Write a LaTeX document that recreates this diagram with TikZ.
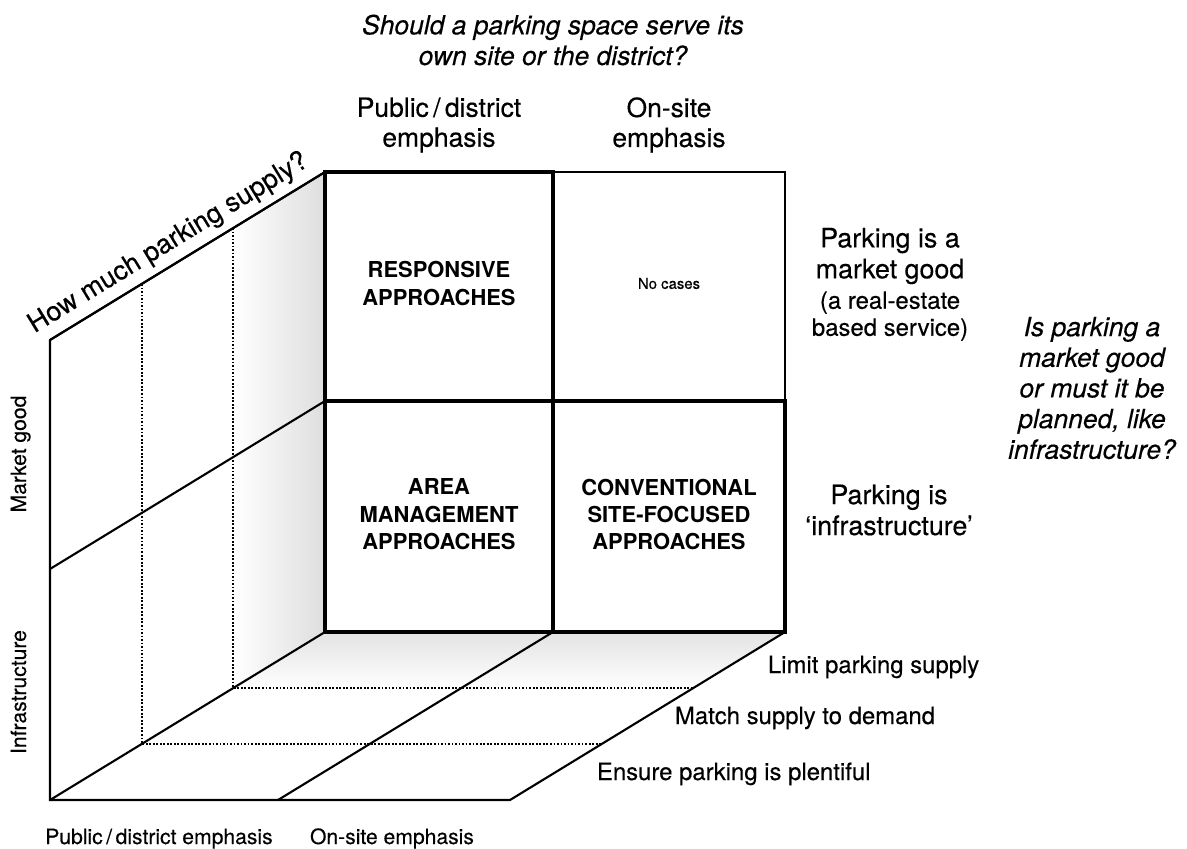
\documentclass[tikz,border=0pt]{standalone}
\usepackage{fontspec}
\setmainfont{TeX Gyre Heros}[UprightFeatures={FakeBold=0.35}, ItalicFeatures={FakeBold=0.35}]
\usepackage{xcolor}
\usepackage{tikz}
\usetikzlibrary{calc, positioning}
\tikzset{>=stealth}
\tikzset{
	edge/.style={line width=1.5pt},
	cellbox/.style={line width=2.4pt, line join=miter},
	emptybox/.style={line width=1.2pt},
	level/.style={line width=1.6pt, dash pattern=on 1.3pt off 1.2pt},
	head/.style={align=center, font=\fontsize{18.8}{21.3}\selectfont},
	question/.style={align=center, font=\fontsize{18.8}{21.8}\selectfont\itshape},
	approach/.style={align=center, font=\fontsize{15.6}{19.5}\selectfont\bfseries},
	rowlabel/.style={align=center, font=\fontsize{19.1}{22}\selectfont},
	rownote/.style={align=center, font=\fontsize{17}{19.2}\selectfont},
	supply/.style={anchor=base west, font=\fontsize{17}{20}\selectfont},
	axislabel/.style={anchor=base, font=\fontsize{15}{18}\selectfont}
}

\begin{document}
\begin{tikzpicture}[x=0.025cm, y=-0.025cm]
	\useasboundingbox (0,0) rectangle (1187,848);
	\coordinate (tl) at (325,172); \coordinate (tm) at (553,172); \coordinate (tr) at (785,172);
	\coordinate (ml) at (325,401); \coordinate (mm) at (553,401); \coordinate (mr) at (785,401);
	\coordinate (bl) at (325,632); \coordinate (bm) at (553,632); \coordinate (br) at (785,632);
	\coordinate (wt) at (50,340); \coordinate (wm) at (50,569);
	\coordinate (fl) at (50,800); \coordinate (fm) at (278,800); \coordinate (fr) at (510,800);

	\shade [left color=white, right color=black!13] ($(tl)!1/3!(wt)$) -- (tl) -- (bl) -- ($(bl)!1/3!(fl)$) -- cycle;
	\shade [top color=black!11, bottom color=white] (bl) -- (br) -- ($(br)!1/3!(fr)$) -- ($(bl)!1/3!(fl)$) -- cycle;

	\draw [level] ($(tl)!1/3!(wt)$) -- ($(bl)!1/3!(fl)$) -- ($(br)!1/3!(fr)$);
	\draw [level] ($(tl)!2/3!(wt)$) -- ($(bl)!2/3!(fl)$) -- ($(br)!2/3!(fr)$);

	\draw [edge] (wt) -- node [sloped, above=1.5pt, pos=0.47, font=\fontsize{19.1}{22}\selectfont] (howmuch) {How much parking supply?} (tl);
	\draw [edge] (wm) -- (ml);
	\draw [edge] (tl) -- (wt) -- (fl) -- (fr) -- (br);
	\draw [edge] (fl) -- (bl);
	\draw [edge] (fm) -- (bm);

	\draw [emptybox] (tm) -- (tr) -- (mr);
	\draw [cellbox] (tl) rectangle (mm);
	\draw [cellbox] (ml) rectangle (bm);
	\draw [cellbox] (mm) rectangle (br);

	\node [approach] (responsive) at ($(tl)!0.5!(mm)+(0,-3)$) {RESPONSIVE\\APPROACHES};
	\node [font=\fontsize{10.6}{12}\selectfont] (nocases) at ($(tm)!0.5!(mr)+(0,-3)$) {No cases};
	\node [approach] (area) at ($(ml)!0.5!(bm)+(0,-2)$) {AREA\\MANAGEMENT\\APPROACHES};
	\node [approach] (conventional) at ($(mm)!0.5!(br)+(0,-2)$) {CONVENTIONAL\\SITE-FOCUSED\\APPROACHES};

	\node [question] (sitequestion) at (553,40) {Should a parking space serve its\\own site or the district?};
	\node [head] (districthead) at (439,125) {Public\,/\,district\\emphasis};
	\node [head] (onsitehead) at (669,125) {On-site\\emphasis};

	\node [rowlabel] (marketrow) at (890,256) {Parking is a\\market good};
	\node [rownote, below=-2pt of marketrow] (marketnote) {(a real-estate\\based service)};
	\node [rowlabel] (infrarow) at (889,510) {Parking is\\`infrastructure'};
	\node [question] (goodquestion) at (1092,388) {Is parking a\\market good\\or must it be\\planned, like\\infrastructure?};

	\node [supply] (limit) at (763,673) {Limit parking supply};
	\node [supply] (match) at (670,724) {Match supply to demand};
	\node [supply] (ensure) at (592,780) {Ensure parking is plentiful};

	\node [axislabel] (districtfoot) at (159,844) {Public\,/\,district emphasis};
	\node [axislabel] (onsitefoot) at (392,844) {On-site emphasis};
	\node [axislabel, rotate=90] (marketside) at (26,454) {Market good};
	\node [axislabel, rotate=90] (infraside) at (26,692) {Infrastructure};
\end{tikzpicture}
\end{document}
